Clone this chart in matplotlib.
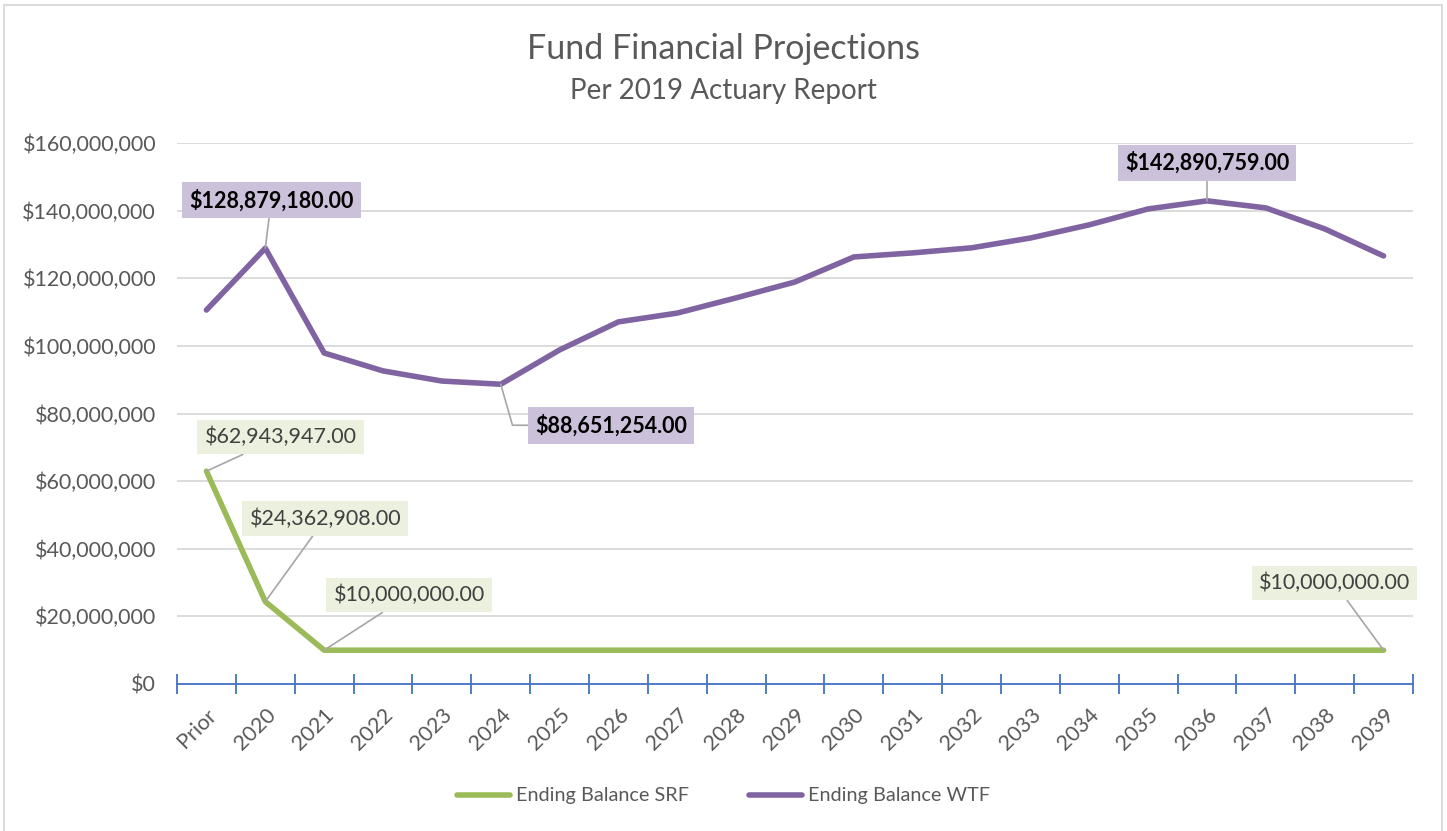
import matplotlib
matplotlib.use("Agg")
import matplotlib.pyplot as plt
from matplotlib.ticker import FuncFormatter
from matplotlib.lines import Line2D

categories = ["Prior", "2020", "2021", "2022", "2023", "2024", "2025", "2026", "2027",
              "2028", "2029", "2030", "2031", "2032", "2033", "2034", "2035", "2036",
              "2037", "2038", "2039"]
srf = [62943947, 24362908] + [10000000] * 19
wtf = [110.6e6, 128879180, 97.9e6, 92.6e6, 89.6e6, 88651254, 98.8e6, 107.1e6, 109.7e6,
       114.2e6, 118.9e6, 126.3e6, 127.5e6, 129.0e6, 131.9e6, 135.8e6, 140.5e6, 142890759,
       140.8e6, 134.6e6, 126.6e6]
yticks = [0, 20e6, 40e6, 60e6, 80e6, 100e6, 120e6, 140e6, 160e6]

FONT = ["Lato", "DejaVu Sans"]
plt.rcParams["font.family"] = FONT
GRAY = "#595959"
GREEN = "#9BBB59"
PURPLE = "#8064A2"

fig = plt.figure(figsize=(14.47, 8.31), dpi=100)
ax = fig.add_axes([177 / 1447, 1 - 684 / 831, (1413 - 177) / 1447, (684 - 143) / 831])

x = list(range(len(categories)))
ax.plot(x, srf, color=GREEN, lw=4, solid_capstyle="round", solid_joinstyle="round", zorder=3)
ax.plot(x, wtf, color=PURPLE, lw=4, solid_capstyle="round", solid_joinstyle="round", zorder=3)

ax.set_xlim(-0.5, len(categories) - 0.5)
ax.set_ylim(0, 160e6)
ax.set_yticks(yticks)
ax.yaxis.set_major_formatter(FuncFormatter(lambda v, p: "${:,.0f}".format(v)))
ax.grid(axis="y", color="#D9D9D9", lw=1.3, zorder=0)
ax.tick_params(axis="y", length=0, labelsize=15.5, labelcolor=GRAY, pad=15)
ax.set_xticks(x)
ax.set_xticklabels(categories, rotation=45, ha="right", rotation_mode="anchor",
                   fontsize=15.5, color=GRAY)
ax.set_xticks([i - 0.5 for i in range(len(categories) + 1)], minor=True)
ax.tick_params(axis="x", which="major", length=0, pad=15)
ax.tick_params(axis="x", which="minor", length=14, color="#4472C4", width=1.3,
               direction="inout")
for s in ["top", "right", "left"]:
    ax.spines[s].set_visible(False)
ax.spines["bottom"].set_color("#4472C4")
ax.spines["bottom"].set_linewidth(1.3)

def label(i, series, text, dx, dy, bold, fc, conn="arc3"):
    ax.annotate(text, xy=(i, series[i]), xytext=(dx, dy), textcoords="offset pixels",
                ha="center", va="center", fontsize=15.5,
                fontweight="bold" if bold else "normal",
                color="#000000" if bold else "#404040",
                bbox=dict(boxstyle="square,pad=0.33", fc=fc, ec="none"),
                arrowprops=dict(arrowstyle="-", color="#A6A6A6", lw=1.2,
                                shrinkA=0, shrinkB=0, connectionstyle=conn),
                zorder=5)

PF = "#CCC1DA"
GF = "#EBF1DE"
label(1, wtf, "$128,879,180.00", 6, 48, True, PF)
label(5, wtf, "$88,651,254.00", 110, -41, True, PF,
      conn="angle,angleA=0,angleB=-74,rad=0")
label(17, wtf, "$142,890,759.00", 0, 38, True, PF)
label(0, srf, "$62,943,947.00", 74, 34, False, GF)
label(1, srf, "$24,362,908.00", 60, 83, False, GF)
label(2, srf, "$10,000,000.00", 85, 55, False, GF)
label(20, srf, "$10,000,000.00", -49, 67, False, GF)

fig.text(0.5, 1 - 49 / 831, "Fund Financial Projections", ha="center", va="center",
         fontsize=24.5, color=GRAY)
fig.text(0.5, 1 - 91 / 831, "Per 2019 Actuary Report", ha="center", va="center",
         fontsize=20, color=GRAY)

handles = [Line2D([], [], color=GREEN, lw=4, solid_capstyle="round"),
           Line2D([], [], color=PURPLE, lw=4, solid_capstyle="round")]
fig.legend(handles, ["Ending Balance SRF", "Ending Balance WTF"], loc="center",
           bbox_to_anchor=(0.5, 1 - 796 / 831), ncol=2, frameon=False, fontsize=14.3,
           labelcolor=GRAY, handlelength=2.7, handletextpad=0.3, columnspacing=3.0)

# chart border
for xs, ys in [([4, 4], [0, 826]), ([4, 1442], [826, 826]), ([1442, 1442], [0, 826])]:
    fig.add_artist(Line2D([v / 1447 for v in xs], [v / 831 for v in ys],
                          color="#D9D9D9", lw=1.3))

fig.savefig("out.png", dpi=100)
